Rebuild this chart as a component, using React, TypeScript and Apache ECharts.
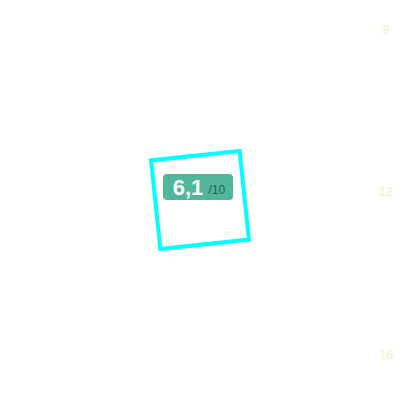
import React, { useEffect, useRef } from 'react';
import * as echarts from 'echarts';

// rating shown in the badge
const score = 6.1;
const maxScore = 10;

// right-hand axis ticks
const tickLabels = [8, 12, 16];

const App = () => {
  const chartRef = useRef<HTMLDivElement>(null);

  useEffect(() => {
    const chart = echarts.init(chartRef.current, null, { renderer: 'svg' });

    const scoreText = score.toFixed(1).replace('.', ',');

    const options = {
      animation: false,
      grid: { left: 0, right: 20, top: 29, bottom: 46 },
      xAxis: { type: 'value', show: false },
      yAxis: {
        type: 'value',
        position: 'right',
        inverse: true,
        min: tickLabels[0],
        max: tickLabels[tickLabels.length - 1],
        interval: tickLabels[1] - tickLabels[0],
        axisLine: { show: false },
        axisTick: { show: false },
        splitLine: { show: false },
        axisLabel: {
          align: 'center',
          margin: 6,
          color: '#e4f8c0',
          fontSize: 13,
          fontFamily: 'Liberation Sans',
        },
      },
      series: [],
      graphic: [
        {
          type: 'rect',
          x: 200,
          y: 200,
          rotation: (6 * Math.PI) / 180,
          shape: { x: -44.5, y: -44.5, width: 89, height: 89 },
          style: { fill: 'none', stroke: '#00ffff', lineWidth: 4 },
        },
        {
          type: 'rect',
          shape: { x: 163, y: 174, width: 70, height: 26, r: 4 },
          style: { fill: '#52b69a' },
        },
        {
          type: 'text',
          x: 199,
          y: 187.5,
          style: {
            text: `{v|${scoreText}} {m|/${maxScore}}`,
            align: 'center',
            verticalAlign: 'middle',
            rich: {
              v: { fontSize: 22, fontWeight: 'bold', fill: '#ffffff', fontFamily: 'Liberation Sans' },
              m: { fontSize: 12, fill: '#2c5e50', fontFamily: 'Liberation Sans', padding: [4, 0, 0, 2] },
            },
          },
        },
      ],
    };

    chart.setOption(options);

    return () => {
      chart.dispose();
    };
  }, []);

  return (
    <div
      ref={chartRef}
      style={{ position: 'absolute', left: 0, top: 0, width: '400px', height: '400px' }}
    ></div>
  );
};

export default App;
